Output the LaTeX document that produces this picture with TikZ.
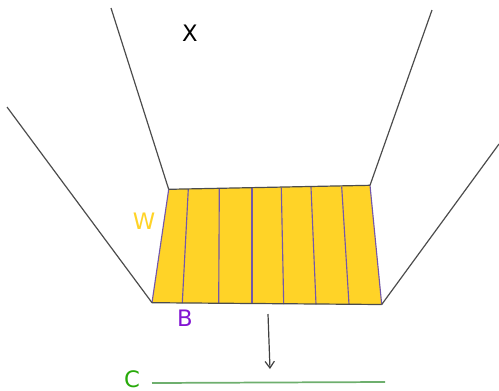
\documentclass[tikz,border=0pt]{standalone}
\usepackage{fontspec}
\setmainfont{DejaVu Sans}
\usetikzlibrary{arrows.meta}
\definecolor{wallyellow}{RGB}{255,211,39}
\definecolor{basepurple}{RGB}{110,70,190}
\definecolor{labelpurple}{RGB}{130,20,210}
\definecolor{labelgreen}{RGB}{40,170,10}
\definecolor{linegreen}{RGB}{110,175,110}
\tikzset{
    rim/.style={draw=black!70, line width=0.9pt},
    divider/.style={draw=basepurple!70!gray, line width=0.85pt},
    lbl/.style={font=\fontsize{17}{20}\selectfont, inner sep=0pt}
}

\begin{document}
\begin{tikzpicture}[x=0.75pt, y=-0.75pt]
        \useasboundingbox (0,0) rectangle (499,390);
        \coordinate (TL) at (168.7,189.3);
        \coordinate (TR) at (370,185.3);
        \coordinate (BR) at (381.7,304.5);
        \coordinate (BL) at (152,302.7);
        \fill[wallyellow] (TL)--(TR)--(BR)--(BL)--cycle;
        \foreach \i/\a/\b/\c/\d in {1/188.3/189/182.3/303, 2/219.3/188.7/218.7/303.3, 3/252/188.3/252/303.7, 4/281.3/187.7/283.7/304, 5/311/187/316/304.3, 6/341.7/186.7/349/304.3} {
            \coordinate (T\i) at (\a,\b);
            \coordinate (B\i) at (\c,\d);
            \draw[divider] (T\i)--(B\i);
        }
        \draw[divider] (BL)--(TL);
        \draw[divider] (TR)--(BR);
        \draw[rim] (TL)--(TR);
        \draw[rim] (BL)--(BR);
        % side walls
        \coordinate (TLo) at (111,8);
        \coordinate (TRo) at (432,10);
        \coordinate (BLo) at (7,107);
        \coordinate (BRo) at (499,144);
        \draw[rim] (TLo)--(TL);
        \draw[rim] (TRo)--(TR);
        \draw[rim] (BLo)--(BL);
        \draw[rim] (BRo)--(BR);
        \coordinate (Astart) at (268,314);
        \coordinate (Aend) at (270,369);
        \draw[draw=black!75, line width=0.9pt, -{Straight Barb[length=5pt,width=7pt]}] (Astart)--(Aend);
        \coordinate (Cl) at (152,383);
        \coordinate (Cr) at (385,382);
        \draw[draw=linegreen, line width=1.3pt] (Cl)--(Cr);
        \node[lbl, text=black] (X) at (190,33) {X};
        \node[lbl, text=wallyellow] (W) at (144,221) {W};
        \node[lbl, text=labelpurple] (B) at (185,318) {B};
        \node[lbl, text=labelgreen] (C) at (132,379) {C};
    \end{tikzpicture}
\end{document}
